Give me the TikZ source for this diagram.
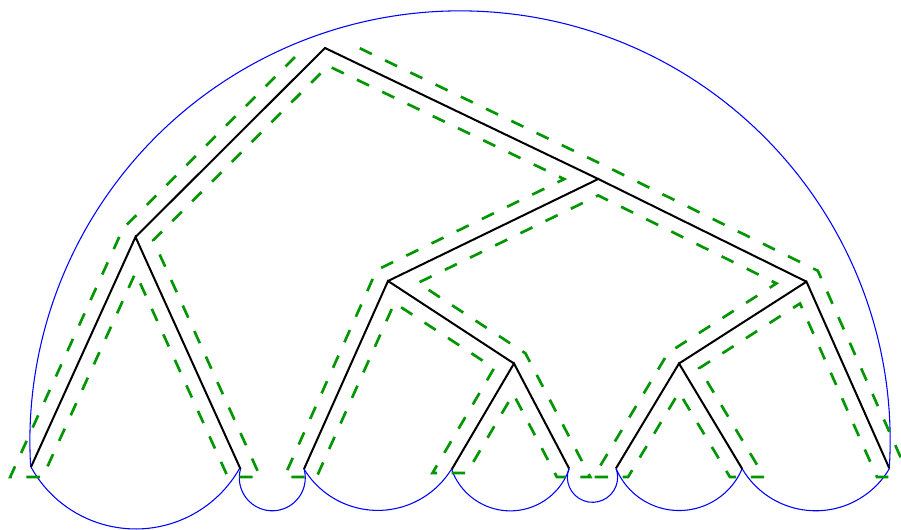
\documentclass[tikz,border=0pt]{standalone}
\usetikzlibrary{calc}
\definecolor{cgreen}{RGB}{0,150,0}
\newcommand\offd{11.1pt}
\newcommand\mkoff[3]{\coordinate (#1a) at ($(#2)!\offd!90:(#3)$);\coordinate (#1b) at ($(#3)!\offd!-90:(#2)$);}
\newcommand\meet[3]{\coordinate (#1) at (intersection of #2a--#2b and #3a--#3b);}
\newcommand\capmeet[3]{\coordinate (#1) at (intersection of #2a--#2b and #3);}
\newcommand\arcvia[3]{\draw[arcline] let \p1=($(#1)-(#3)$), \p2=($(#2)-(#3)$),
  \n1={atan2(\y1,\x1)}, \n2={atan2(\y2,\x2)}, \n3={veclen(\x1,\y1)},
  \n4={\n2+360*(\n2<\n1)} in (#1) arc[start angle=\n1, end angle=\n4, radius=\n3];}
\begin{document}
\begin{tikzpicture}[x=0.75pt,y=-0.75pt,
  treeline/.style={black,line width=1.5pt},
  arcline/.style={blue,line width=0.8pt},
  contour/.style={cgreen,line width=2pt,dash pattern=on 10pt off 11pt}]
\useasboundingbox (0,0) rectangle (901,530);
\clip (0,0) rectangle (901,530);
% tree nodes
\coordinate (R) at (325,48);
\coordinate (A) at (135.5,237);
\coordinate (B) at (598.3,179);
\coordinate (C) at (388,281);
\coordinate (D) at (806.5,281.7);
\coordinate (E) at (514,363.5);
\coordinate (F) at (679,363.5);
\coordinate (L1) at (31,467);
\coordinate (L2) at (240.5,469);
\coordinate (L3) at (304,469);
\coordinate (L4) at (451.7,469.5);
\coordinate (L5) at (569,468.3);
\coordinate (L6) at (616,468.3);
\coordinate (L7) at (742.3,469);
\coordinate (L8) at (889.3,468.3);
% arc centres
\coordinate (c0) at (460,441);
\coordinate (c12) at (135.75,409.5);
\coordinate (c23) at (272.3,477.8);
\coordinate (c34) at (377.85,423.9);
\coordinate (c45) at (510.35,448.6);
\coordinate (c56) at (592.5,477.2);
\coordinate (c67) at (679.15,442.2);
\coordinate (c78) at (815.8,425.3);
% cap lines
\coordinate (capA) at (0,477);
\coordinate (capB) at (901,477);
\coordinate (capC) at (0,473);
\coordinate (capD) at (901,473);
% offset lines of the walk around the tree
\mkoff{e1}{L1}{A}
\mkoff{e2}{A}{R}
\mkoff{e3}{R}{B}
\mkoff{e4}{B}{D}
\mkoff{e5}{D}{L8}
\mkoff{e6}{L8}{D}
\mkoff{e7}{D}{F}
\mkoff{e8}{F}{L7}
\mkoff{e9}{L7}{F}
\mkoff{e10}{F}{L6}
\mkoff{e11}{L6}{F}
\mkoff{e12}{F}{D}
\mkoff{e13}{D}{B}
\mkoff{e14}{B}{C}
\mkoff{e15}{C}{E}
\mkoff{e16}{E}{L5}
\mkoff{e17}{L5}{E}
\mkoff{e18}{E}{L4}
\mkoff{e19}{L4}{E}
\mkoff{e20}{E}{C}
\mkoff{e21}{C}{L3}
\mkoff{e22}{L3}{C}
\mkoff{e23}{C}{B}
\mkoff{e24}{B}{R}
\mkoff{e25}{R}{A}
\mkoff{e26}{A}{L2}
\mkoff{e27}{L2}{A}
\mkoff{e28}{A}{L1}
\capmeet{V0}{e28}{capA--capB}
\capmeet{V1}{e1}{capA--capB}
\meet{V2}{e1}{e2}
\coordinate (Pen) at ($(e2a)!0.944!(e2b)$);
\coordinate (Pst) at ($(e3a)!0.104!(e3b)$);
\coordinate (V4) at (e4a);
\meet{V5}{e4}{e5}
\capmeet{V6}{e5}{capA--capB}
\capmeet{V7}{e6}{capA--capB}
\meet{V8}{e6}{e7}
\meet{V9}{e7}{e8}
\capmeet{V10}{e8}{capA--capB}
\capmeet{V11}{e9}{capA--capB}
\meet{V12}{e9}{e10}
\capmeet{V13}{e10}{capA--capB}
\capmeet{V14}{e11}{capA--capB}
\meet{V15}{e11}{e12}
\meet{V16}{e12}{e13}
\meet{V17}{e13}{e14}
\meet{V18}{e14}{e15}
\meet{V19}{e15}{e16}
\capmeet{V20}{e16}{capA--capB}
\capmeet{V21}{e17}{capA--capB}
\meet{V22}{e17}{e18}
\capmeet{V23}{e18}{capC--capD}
\capmeet{V24}{e19}{capC--capD}
\meet{V25}{e19}{e20}
\meet{V26}{e20}{e21}
\capmeet{V27}{e21}{capA--capB}
\capmeet{V28}{e22}{capA--capB}
\meet{V29}{e22}{e23}
\meet{V30}{e23}{e24}
\meet{V31}{e24}{e25}
\meet{V32}{e25}{e26}
\capmeet{V33}{e26}{capA--capB}
\capmeet{V34}{e27}{capA--capB}
\meet{V35}{e27}{e28}
% blue arcs
\arcvia{L8}{L1}{c0}
\arcvia{L1}{L2}{c12}
\arcvia{L2}{L3}{c23}
\arcvia{L3}{L4}{c34}
\arcvia{L4}{L5}{c45}
\arcvia{L5}{L6}{c56}
\arcvia{L6}{L7}{c67}
\arcvia{L7}{L8}{c78}
% green contour
\draw[contour] (Pst) -- (V4) -- (V5) -- (V6) -- (V7)
  -- (V8) -- (V9) -- (V10) -- (V11) -- (V12) -- (V13) -- (V14) -- (V15)
  -- (V16) -- (V17) -- (V18) -- (V19) -- (V20) -- (V21) -- (V22) -- (V23)
  -- (V24) -- (V25) -- (V26) -- (V27) -- (V28) -- (V29) -- (V30) -- (V31)
  -- (V32) -- (V33) -- (V34) -- (V35) -- (V0) -- (V1) -- (V2) -- (Pen);
% tree
\draw[treeline] (L1) -- (A) -- (L2);
\draw[treeline] (A) -- (R) -- (B);
\draw[treeline] (C) -- (B) -- (D);
\draw[treeline] (L3) -- (C) -- (E);
\draw[treeline] (L4) -- (E) -- (L5);
\draw[treeline] (F) -- (D) -- (L8);
\draw[treeline] (L6) -- (F) -- (L7);
\end{tikzpicture}
\end{document}
